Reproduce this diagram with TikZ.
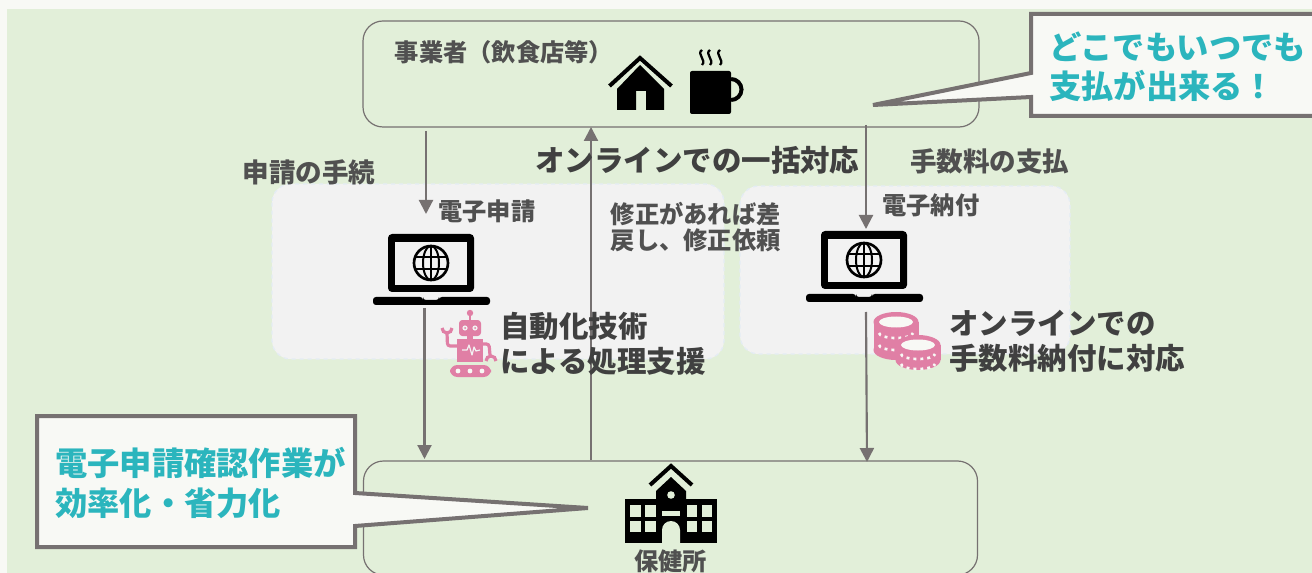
\documentclass[tikz,border=0pt]{standalone}
\usepackage{fontspec}
\setmainfont{Noto Sans CJK JP}
\usetikzlibrary{arrows.meta}
\definecolor{pagebg}{HTML}{F8F9F5}
\definecolor{greenbg}{HTML}{E2EFD9}
\definecolor{panelbg}{HTML}{F2F2F2}
\definecolor{panelline}{HTML}{E4ECF4}
\definecolor{linegray}{HTML}{767171}
\definecolor{textdark}{HTML}{404040}
\definecolor{textmid}{HTML}{505050}
\definecolor{teal}{HTML}{2BB5BD}
\definecolor{pinkicon}{HTML}{E07FA5}
\newcommand{\coinpile}[4]{% cx, top cy, bottom cy, dot rows
  \fill[pinkicon] (#1-22.5,#2) rectangle (#1+22.5,#3);
  \fill[pinkicon] (#1,#2) ellipse[x radius=22.5,y radius=10];
  \fill[pinkicon] (#1,#3) ellipse[x radius=22.5,y radius=10];
  \fill[pagebg] (#1,#2) ellipse[x radius=17,y radius=5.5];
  \foreach \rowy in {#4}{
    \draw[pagebg,line width=2pt,dash pattern=on 2.2pt off 3pt] (#1-17,\rowy) arc[start angle=180,end angle=0,x radius=17,y radius=5];
  }
}
\tikzset{
  flowbox/.style={draw=linegray,line width=.9pt,rounded corners=15pt,inner sep=0pt},
  panel/.style={fill=panelbg,draw=panelline,line width=1pt,dashed,rounded corners=14pt},
  conn/.style={draw=linegray,line width=1.6pt,-{Triangle[width=10.5pt,length=10.5pt]}},
  callout/.style={fill=pagebg,draw=linegray,line width=3pt,miter limit=3},
  lbl/.style={inner sep=0pt,anchor=west,text=textmid,font=\bfseries\fontsize{18.2pt}{18.2pt}\selectfont},
  lblmid/.style={inner sep=0pt,anchor=west,text=textmid,font=\bfseries\fontsize{19.9pt}{19.9pt}\selectfont},
  lblbig/.style={inner sep=0pt,anchor=west,text=textdark,font=\bfseries\fontsize{22.1pt}{22.1pt}\selectfont},
  lblcall/.style={inner sep=0pt,anchor=west,text=teal,font=\bfseries\fontsize{24.2pt}{24.2pt}\selectfont},
  laptopicon/.pic={
    \fill[black,rounded corners=3pt] (-43,29)--(-43,-29)--(43,-29)--(43,29)--cycle;
    \fill[panelbg] (-36,22) rectangle (36,-21);
    \fill[black,rounded corners=2.2pt] (-58,34)--(-8,34)--(-8,37)--(8,37)--(8,34)--(59,34)--(59,42)--(-58,42)--cycle;
    \draw[black,line width=2pt] (0,0) circle[radius=17];
    \draw[black,line width=1.5pt] (0,0) ellipse[x radius=8,y radius=17];
    \draw[black,line width=1.5pt] (0,-17)--(0,17) (-16,-6)--(16,-6) (-16,6)--(16,6);
  },
}
\begin{document}
\begin{tikzpicture}[x=.75pt,y=-.75pt]
\useasboundingbox (0,0) rectangle (1312,573);
\clip (0,0) rectangle (1312,573);
\fill[pagebg] (0,0) rectangle (1312,573);
\fill[greenbg] (7,9) rectangle (1312,573);

% panels
\draw[panel] (272,184) rectangle (724,359);
\draw[panel] (740,186) rectangle (1070,354);

% main boxes
\node[flowbox,minimum width=462pt,minimum height=79.5pt] (top) at (671,74) {};
\node[flowbox,minimum width=460.5pt,minimum height=85.5pt] (clinic) at (670.5,518) {};

% connector ends
\coordinate (a1s) at (426,131);
\coordinate (a1e) at (426,214);
\coordinate (a2s) at (424.5,308);
\coordinate (a2e) at (424.5,459);
\coordinate (a3s) at (591,460);
\coordinate (a3e) at (591,127);
\coordinate (a4s) at (866,125);
\coordinate (a4e) at (866,229);
\coordinate (a5s) at (866,312);
\coordinate (a5e) at (867,462);
\draw[conn] (a1s) -- (a1e);
\draw[conn] (a2s) -- (a2e);
\draw[conn] (a3s) -- (a3e);
\draw[conn] (a4s) -- (a4e);
\draw[conn] (a5s) -- (a5e);

% house
\draw[black,line width=3pt,miter limit=10] (609.5,86) -- (640,58) -- (671.5,86);
\fill[black] (640,65)--(664,89)--(664,110)--(646,110)--(646,91)--(636,91)--(636,110)--(617,110)--(617,89)--cycle;
% cup
\fill[black,rounded corners=1.5pt] (690,71) rectangle (731,114);
\draw[black,line width=3pt] (731,79) arc[start angle=-90,end angle=90,radius=10.5];
\foreach \sx in {702,710,720}{
  \draw[black,line width=1.7pt] (\sx,50) .. controls (\sx-6,54) and (\sx+5,60) .. (\sx,65);
}

% laptops
\pic at (431,263) {laptopicon};
\pic at (864,260) {laptopicon};

% robot
\fill[pinkicon] (470,313) circle[radius=3.2];
\draw[pinkicon,line width=1.4pt] (470,315)--(470,321);
\fill[pinkicon,rounded corners=2.5pt] (459,320) rectangle (481,336);
\fill[panelbg] (465,328) circle[radius=2.6] (475,328) circle[radius=2.6];
\fill[pinkicon] (465,328) circle[radius=1] (475,328) circle[radius=1];
\fill[pinkicon] (467,336) rectangle (473,340);
\fill[pinkicon] (457,339) rectangle (483,362);
\draw[panelbg,line width=.9pt,line join=round] (462,350)--(467,350)--(469,345)--(472,355)--(474,347)--(476,351)--(480,350);
\draw[pinkicon,line width=2.4pt,rounded corners=2pt] (458,346)--(447.5,346)--(447,333);
\draw[pinkicon,line width=2.4pt] (442,328) arc[start angle=180,end angle=0,radius=5];
\draw[pinkicon,line width=2.4pt,rounded corners=2pt] (482,344)--(489,344)--(490,355);
\draw[pinkicon,line width=2.4pt] (486,361) arc[start angle=180,end angle=360,radius=5];
\fill[pinkicon,rounded corners=5.5pt] (450,365) rectangle (491,377);
\fill[pagebg] (458,371) circle[radius=2.4] (470,371) circle[radius=2.4] (482,371) circle[radius=2.4];

% coins
\coinpile{896}{322}{350}{333,345}
\coinpile{918}{345}{360}{354,364}

% school
\draw[black,line width=3pt,miter limit=10] (650,485)--(671,466)--(692,485);
\fill[black] (625,499) rectangle (717,543);
\fill[black] (656,499)--(656,491)--(671,477)--(686,491)--(686,499)--cycle;
\fill[greenbg] (671,495) circle[radius=3.8];
\foreach \wx/\wxx in {630/641,645/656,687/697,702/712}{
  \fill[greenbg] (\wx,505) rectangle (\wxx,517);
  \fill[greenbg] (\wx,521) rectangle (\wxx,532);
}
\fill[greenbg] (662,511) rectangle (680,516);
\fill[greenbg] (662,543)--(662,530) arc[start angle=180,end angle=360,radius=9]--(680,543)--cycle;

% callouts
\draw[callout] (1031,14)--(1320,14)--(1320,116)--(1031,116)--(1031,97)--(873,105)--(1031,73)--cycle;
\draw[callout] (37,416)--(355,416)--(355,493)--(588,508)--(355,526)--(355,547)--(37,547)--cycle;

% labels
\node[lbl] (lOwner) at (394.5,52) {事業者（飲食店等）};
\node[lblmid] (lProc) at (242.5,172) {申請の手続};
\node[lblbig] (lOnline) at (535,160) {オンラインでの一括対応};
\node[lblmid] (lFee) at (910,161) {手数料の支払};
\node[lbl] (lEapp) at (438,211) {電子申請};
\node[lbl] (lFix1) at (610.5,214) {修正があれば差};
\node[lbl] (lFix2) at (610.5,240) {戻し、修正依頼};
\node[lbl] (lEpay) at (882,205) {電子納付};
\node[lblbig] (lAuto1) at (500,326) {自動化技術};
\node[lblbig] (lAuto2) at (500,361) {による処理支援};
\node[lblbig] (lPay1) at (949,323) {オンラインでの};
\node[lblbig] (lPay2) at (949,358) {手数料納付に対応};
\node[lblcall] (lEff1) at (55,463) {電子申請確認作業が};
\node[lblcall] (lEff2) at (55,503) {効率化・省力化};
\node[lblcall] (lAny1) at (1049,47) {どこでもいつでも};
\node[lblcall] (lAny2) at (1049,86) {支払が出来る！};
\node[lbl] (lClinic) at (634,561) {保健所};
\end{tikzpicture}
\end{document}
